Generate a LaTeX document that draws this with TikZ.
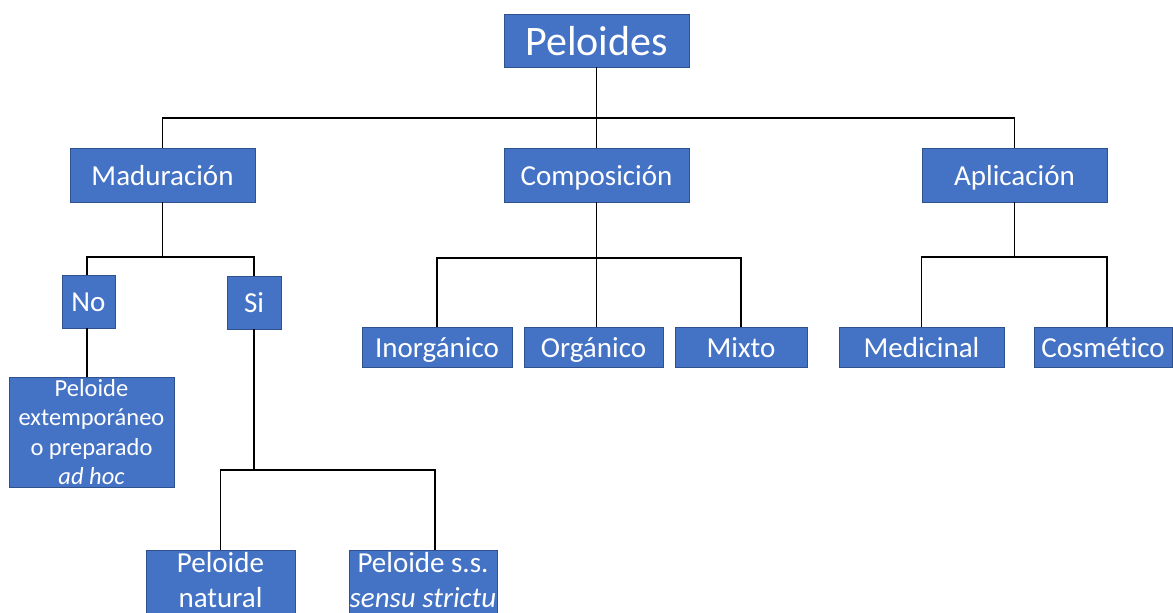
\documentclass[tikz,border=0pt]{standalone}
\usepackage{fontspec}
\setmainfont{Carlito}[Ligatures=NoCommon]
\definecolor{boxblue}{HTML}{4472C4}
\definecolor{boxedge}{HTML}{2F528F}
\tikzset{
  box/.style={draw=boxedge, fill=boxblue, line width=0.8pt, text=white, inner sep=0pt,
    font=\fontsize{29}{35}\selectfont},
  oneline/.style={text height=20pt, text depth=0pt},
  wh/.style 2 args={minimum width=#1, minimum height=#2},
  conn/.style={line width=1.9pt, draw=black}
}
\begin{document}
\begin{tikzpicture}[x=1pt,y=-1pt]
\useasboundingbox (0,0) rectangle (1173,613);
\clip (0,0) rectangle (1173,613);
% level 0
\node[box, wh={185}{53}, text height=29.5pt, text depth=0pt, font=\fontsize{42}{50}\selectfont] (pel) at (596.5,40.5) {Peloides};
% level 1
\node[box, oneline, wh={185}{54}] (mad) at (162.5,175) {Maduración};
\node[box, oneline, wh={185}{54}] (com) at (596.5,175) {Composición};
\node[box, oneline, wh={185}{54}] (apl) at (1014.5,175) {Aplicación};
% level 2
\node[box, oneline, wh={53}{53}] (no) at (88.5,301.5) {No};
\node[box, oneline, wh={54}{53}] (si) at (254,302.5) {Si};
\node[box, oneline, wh={150}{40}] (ino) at (437,347) {Inorgánico};
\node[box, oneline, wh={139}{40}] (org) at (593.5,347) {Orgánico};
\node[box, oneline, wh={132}{40}] (mix) at (741,347) {Mixto};
\node[box, oneline, wh={165}{40}] (med) at (921.5,347) {Medicinal};
\node[box, oneline, wh={138}{40}] (cos) at (1103,347) {Cosmético};
% level 3
\node[box, wh={165}{110}, align=center, font=\fontsize{24.5}{29.5}\selectfont] (ext) at (91.5,432)
  {Peloide\\extemporáneo\\o preparado\\\textit{ad hoc}};
\node[box, wh={149}{70}, align=center, text depth=10pt] (nat) at (220.5,585) {Peloide\\natural};
\node[box, wh={148}{70}, align=center, text depth=10pt] (ss) at (423,585) {Peloide s.s.\\\textit{sensu strictu}};
% bus points
\coordinate (b0) at (596.5,118);
\coordinate (b1) at (162.5,257);
\coordinate (b2) at (596.5,258);
\coordinate (b3) at (1014.5,257);
\coordinate (b4) at (254,470);
% connectors
\draw[conn] (pel.south) -- (b0);
\draw[conn] (mad.north) |- (b0) -| (apl.north);
\draw[conn] (b0) -- (com.north);
\draw[conn] (mad.south) -- (b1);
\draw[conn] ([xshift=-1.5pt]no.north) |- (b1) -| (si.north);
\draw[conn] (com.south) -- (b2);
\draw[conn] (ino.north) |- (b2) -| (mix.north);
\draw[conn] (b2) -- (b2 |- org.north);
\draw[conn] (apl.south) -- (b3);
\draw[conn] (med.north) |- (b3) -| ([xshift=4pt]cos.north);
\draw[conn] ([xshift=-1.5pt]no.south) -- ([xshift=-1.5pt]no.south |- ext.north);
\draw[conn] (si.south) -- (b4);
\draw[conn] (nat.north) |- (b4) -| ([xshift=12pt]ss.north);
\end{tikzpicture}
\end{document}
